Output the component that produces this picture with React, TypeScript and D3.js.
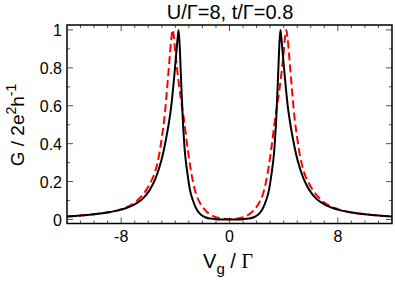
import React from 'react'
import * as d3 from 'd3'

// values
const blackVg = [-12, -11, -10, -9, -8, -7, -6.4, -5.9, -5.5, -5.2, -4.9, -4.7, -4.5, -4.3, -4.1, -3.95, -3.84, -3.76, -3.68, -3.6, -3.45, -3.3, -3.1, -2.9, -2.7, -2.4, -2.1, -1.8, -1.4, -1, -0.5, 0,
  0.5, 1, 1.4, 1.8, 2.1, 2.4, 2.7, 2.9, 3.1, 3.3, 3.45, 3.6, 3.68, 3.76, 3.84, 3.95, 4.1, 4.3, 4.5, 4.7, 4.9, 5.2, 5.5, 5.9, 6.4, 7, 8, 9, 10, 11, 12]
const blackG = [0.016, 0.021, 0.028, 0.037, 0.052, 0.08, 0.11, 0.155, 0.21, 0.27, 0.35, 0.42, 0.5, 0.6, 0.74, 0.86, 0.95, 1.0, 0.92, 0.78, 0.53, 0.36, 0.24, 0.15, 0.1, 0.05, 0.025, 0.012, 0.005, 0.002, 0.0005, 0,
  0.0005, 0.002, 0.005, 0.012, 0.025, 0.05, 0.1, 0.15, 0.24, 0.36, 0.53, 0.78, 0.92, 1.0, 0.95, 0.86, 0.74, 0.6, 0.5, 0.42, 0.35, 0.27, 0.21, 0.155, 0.11, 0.08, 0.052, 0.037, 0.028, 0.021, 0.016]

const redVg = [-12, -11, -10, -9, -8, -6.9, -6.2, -5.8, -5.5, -5.2, -5, -4.8, -4.55, -4.4, -4.3, -4.2, -4.1, -4, -3.8, -3.6, -3.35, -3.1, -2.9, -2.7, -2.45, -2.2, -1.8, -1.5, -1, -0.6, 0,
  0.6, 1, 1.5, 1.8, 2.2, 2.45, 2.7, 2.9, 3.1, 3.35, 3.6, 3.8, 4, 4.1, 4.2, 4.3, 4.4, 4.55, 4.8, 5, 5.2, 5.5, 5.8, 6.2, 6.9, 8, 9, 10, 11, 12]
const redG = [0.016, 0.021, 0.028, 0.038, 0.055, 0.095, 0.15, 0.2, 0.25, 0.34, 0.43, 0.54, 0.74, 0.87, 0.95, 1.0, 0.96, 0.88, 0.75, 0.64, 0.52, 0.38, 0.28, 0.2, 0.13, 0.09, 0.05, 0.03, 0.012, 0.005, 0.002,
  0.005, 0.012, 0.03, 0.05, 0.09, 0.13, 0.2, 0.28, 0.38, 0.52, 0.64, 0.75, 0.88, 0.96, 1.0, 0.95, 0.87, 0.74, 0.54, 0.43, 0.34, 0.25, 0.2, 0.15, 0.095, 0.055, 0.038, 0.028, 0.021, 0.016]

const xMajor = [-8, 0, 8]
const yMajor = [0, 0.2, 0.4, 0.6, 0.8, 1]
const yLabels = ['0', '0.2', '0.4', '0.6', '0.8', '1']

const W = 395
const H = 284
const left = 67, right = 392, top = 25, bottom = 223.5
const font = '"Liberation Sans", Arial, sans-serif'

export default function App() {
  const x = d3.scaleLinear().domain([-12, 12]).range([left, right])
  const y = d3.scaleLinear().domain([-0.021, 1.026]).range([bottom, top])

  const line = d3.line<[number, number]>()
    .x(d => x(d[0]))
    .y(d => y(d[1]))
    .curve(d3.curveMonotoneX)

  const black = blackVg.map((v, i) => [v, blackG[i]] as [number, number])
  const red = redVg.map((v, i) => [v, redG[i]] as [number, number])

  const xMinor = d3.range(-11, 12, 1).filter(v => !xMajor.includes(v))
  const yMinor = d3.range(0.1, 1.0, 0.2)

  return (
    <svg width={W} height={H} style={{ position: 'absolute', left: 0, top: 0, background: '#fff' }}>
      <text x={230} y={19} textAnchor="middle" fontFamily={font} fontSize={20}>U/Γ=8, t/Γ=0.8</text>

      <g stroke="#555" strokeWidth={1}>
        {xMajor.map(v => (
          <g key={'xM' + v}>
            <line x1={x(v)} x2={x(v)} y1={bottom} y2={bottom - 6} />
            <line x1={x(v)} x2={x(v)} y1={top} y2={top + 6} />
          </g>
        ))}
        {xMinor.map(v => (
          <g key={'xm' + v}>
            <line x1={x(v)} x2={x(v)} y1={bottom} y2={bottom - 3} />
            <line x1={x(v)} x2={x(v)} y1={top} y2={top + 3} />
          </g>
        ))}
        {yMajor.map(v => (
          <g key={'yM' + v}>
            <line x1={left} x2={left + 6} y1={y(v)} y2={y(v)} />
            <line x1={right} x2={right - 6} y1={y(v)} y2={y(v)} />
          </g>
        ))}
        {yMinor.map(v => (
          <g key={'ym' + v}>
            <line x1={left} x2={left + 3} y1={y(v)} y2={y(v)} />
            <line x1={right} x2={right - 3} y1={y(v)} y2={y(v)} />
          </g>
        ))}
      </g>

      <path d={line(red) ?? ''} fill="none" stroke="#f00" strokeWidth={2} strokeDasharray="8,4" />
      <path d={line(black) ?? ''} fill="none" stroke="#000" strokeWidth={2} />

      <rect x={left} y={top} width={right - left} height={bottom - top} fill="none" stroke="#000" strokeWidth={1.5} />

      {xMajor.map(v => (
        <text key={'xl' + v} x={x(v)} y={242} textAnchor="middle" fontFamily={font} fontSize={16}>{v}</text>
      ))}
      {yMajor.map((v, i) => (
        <text key={'yl' + v} x={62} y={y(v) + 6} textAnchor="end" fontFamily={font} fontSize={16}>{yLabels[i]}</text>
      ))}

      <text x={228} y={268} textAnchor="middle" fontFamily={font} fontSize={20}>
        V<tspan dy={6} fontSize={15}>g</tspan><tspan dy={-6}> / </tspan><tspan fontFamily='"Liberation Serif", serif'>Γ</tspan>
      </text>

      <text transform={`translate(24,125) rotate(-90)`} textAnchor="middle" fontFamily={font} fontSize={19}>
        G / 2e<tspan dy={-8} fontSize={14}>2</tspan><tspan dy={8}>h</tspan><tspan dy={-8} fontSize={14}>-1</tspan>
      </text>
    </svg>
  )
}
